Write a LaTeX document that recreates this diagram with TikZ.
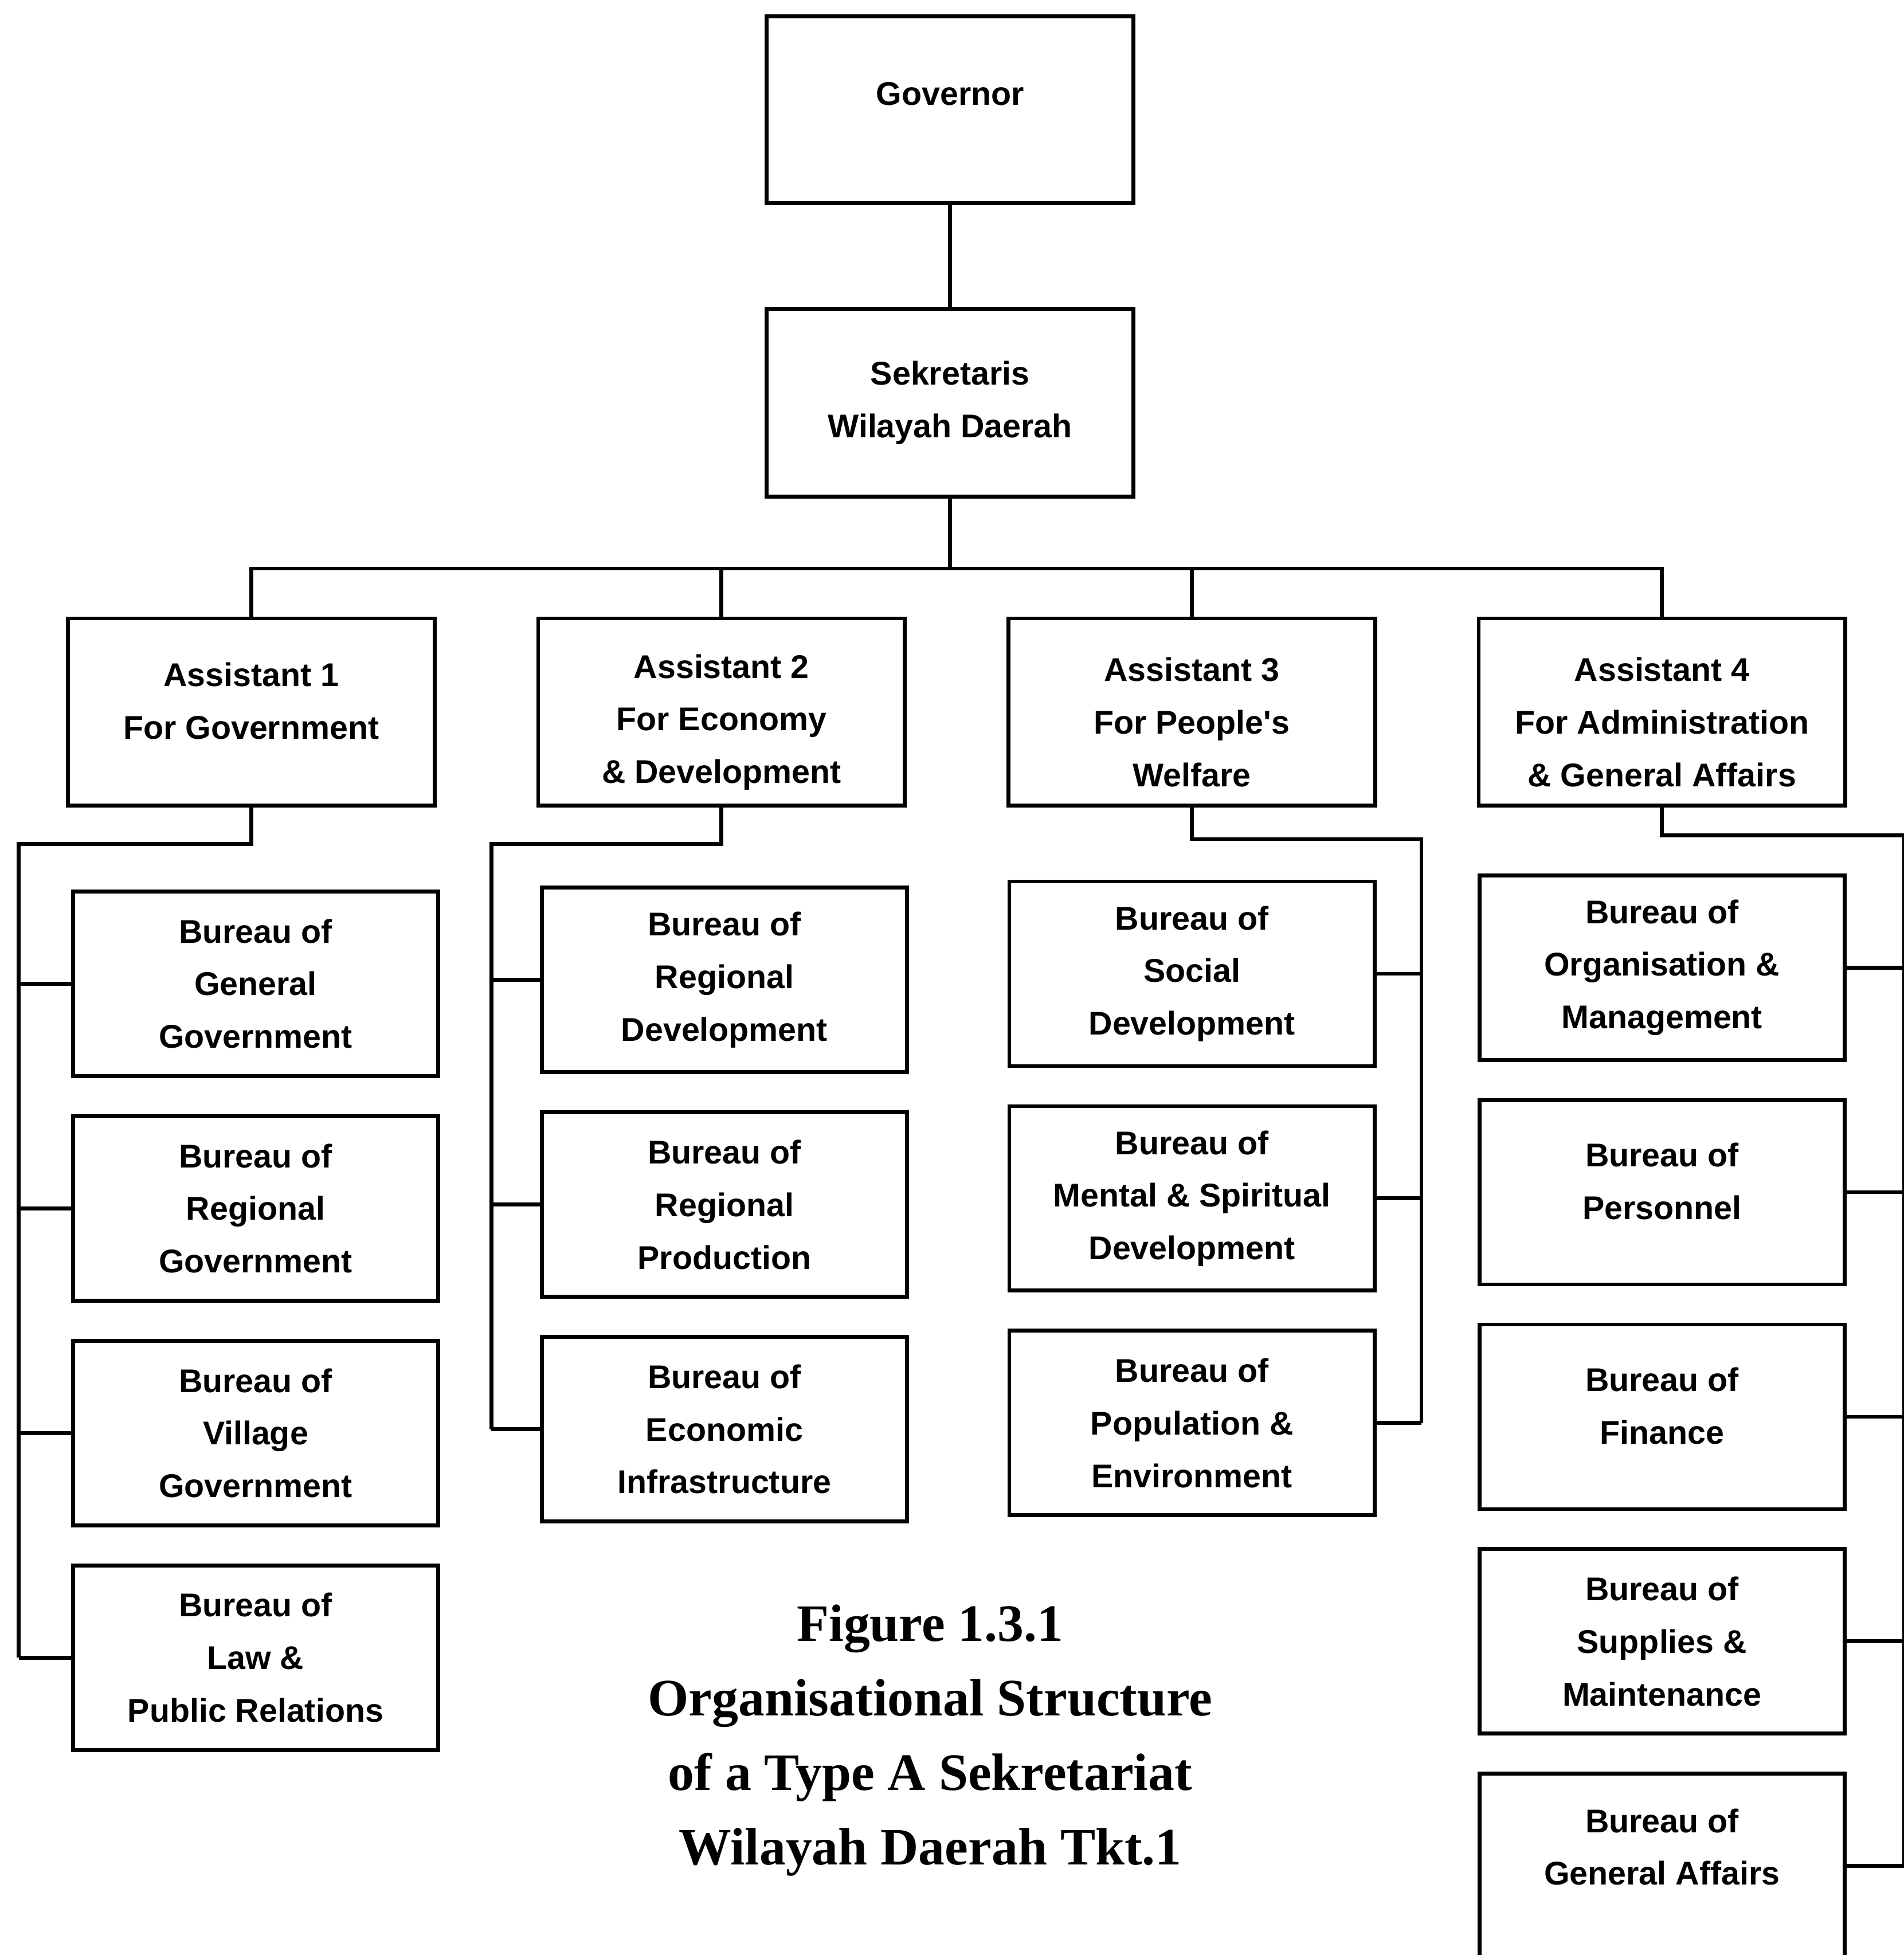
\documentclass[tikz,border=0pt]{standalone}
\usepackage{fontspec}
\newfontfamily\chartfont{Liberation Sans}
\newfontfamily\capfont{Liberation Serif}
\usetikzlibrary{positioning}

\begin{document}
\begin{tikzpicture}[x=1mm, y=-1mm, line width=0.9pt,
    chief/.style={draw, minimum width=29.4mm, minimum height=15mm, align=center,
                  font=\chartfont\bfseries\fontsize{7.5}{12}\selectfont},
    low/.style={text height=12mm},
    bureau/.style={chief, minimum width=29.3mm, minimum height=14.8mm}]
    \useasboundingbox (0,0) rectangle (152.7,156.8);

    \node[chief, text depth=2.6mm] (Gov) at (76.2,8.8) {Governor};
    \node[chief, below=8.2mm of Gov] (Sek) {Sekretaris\\Wilayah Daerah};

    \node[chief, text depth=1.8mm] (A1) at (20.15,57.1) {Assistant 1\\For Government};
    \node[chief, low, right=8.0mm of A1] (A2) {Assistant 2\\For Economy\\\& Development};
    \node[chief, low, right=8.0mm of A2] (A3) {Assistant 3\\For People's\\Welfare};
    \node[chief, low, right=8.0mm of A3] (A4) {Assistant 4\\For Administration\\\& General Affairs};

    \node[bureau] (B11) at (20.5,78.9) {Bureau of\\General\\Government};
    \node[bureau, below=2.9mm of B11] (B12) {Bureau of\\Regional\\Government};
    \node[bureau, below=2.9mm of B12] (B13) {Bureau of\\Village\\Government};
    \node[bureau, below=2.9mm of B13] (B14) {Bureau of\\Law \&\\Public Relations};

    \node[bureau] (B21) at (58.1,78.6) {Bureau of\\Regional\\Development};
    \node[bureau, below=2.9mm of B21] (B22) {Bureau of\\Regional\\Production};
    \node[bureau, below=2.9mm of B22] (B23) {Bureau of\\Economic\\Infrastructure};

    \node[bureau] (B31) at (95.6,78.1) {Bureau of\\Social\\Development};
    \node[bureau, below=2.9mm of B31] (B32) {Bureau of\\Mental \& Spiritual\\Development};
    \node[bureau, below=2.9mm of B32] (B33) {Bureau of\\Population \&\\Environment};

    \node[bureau] (B41) at (133.3,77.6) {Bureau of\\Organisation \&\\Management};
    \node[bureau, below=2.9mm of B41, text depth=1.8mm] (B42) {Bureau of\\Personnel};
    \node[bureau, below=2.9mm of B42, text depth=1.8mm] (B43) {Bureau of\\Finance};
    \node[bureau, below=2.9mm of B43] (B44) {Bureau of\\Supplies \&\\Maintenance};
    \node[bureau, below=2.9mm of B44, text depth=3.1mm] (B45) {Bureau of\\General Affairs};

    \node[font=\capfont\bfseries\fontsize{12}{17}\selectfont, align=center] (Cap) at (74.6,139.6)
        {Figure 1.3.1\\Organisational Structure\\of a Type A Sekretariat\\Wilayah Daerah Tkt.1};

    \coordinate (Bus) at (0,45.6);
    \coordinate (K1) at (1.5,67.7);
    \coordinate (K2) at (39.4,67.7);
    \coordinate (K3) at (114.0,67.3);
    \coordinate (K4) at (152.75,67.0);

    \draw (Gov) -- (Sek);
    \draw (Sek) -- (Sek |- Bus);
    \draw (A1) -- (A1 |- Bus) -| (A4);
    \draw (A2) -- (A2 |- Bus);
    \draw (A3) -- (A3 |- Bus);

    \draw (A1) |- (K1) -- (K1 |- B14);
    \foreach \b in {B11,B12,B13,B14} \draw (\b) -- (K1 |- \b);
    \draw (A2) |- (K2) -- (K2 |- B23);
    \foreach \b in {B21,B22,B23} \draw (\b) -- (K2 |- \b);
    \draw (A3) |- (K3) -- (K3 |- B33);
    \foreach \b in {B31,B32,B33} \draw (\b) -- (K3 |- \b);
    \draw (A4) |- (K4) -- (K4 |- B45);
    \foreach \b in {B41,B42,B43,B44,B45} \draw (\b) -- (K4 |- \b);
\end{tikzpicture}
\end{document}
